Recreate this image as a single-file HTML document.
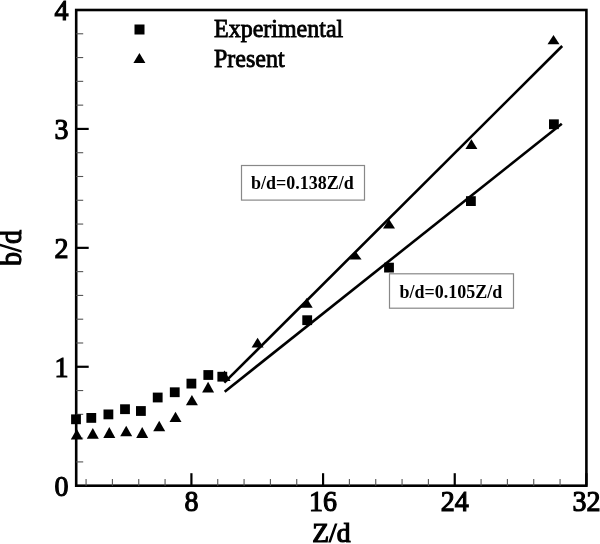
<!DOCTYPE html>
<html><head><meta charset="utf-8"><style>
html,body{margin:0;padding:0;background:#fff;}
body{width:600px;height:544px;overflow:hidden;position:relative;}
svg{position:absolute;left:0;top:0;filter:blur(0.35px);}
text{font-family:"Liberation Serif",serif;fill:#000;}
.tk{font-size:28px;stroke:#000;stroke-width:1.1px;}
.ax{font-size:27.5px;stroke:#000;stroke-width:1.2px;}
.ax2{font-size:28px;stroke:#000;stroke-width:1.1px;}
.lg{font-size:24px;stroke:#000;stroke-width:0.8px;}
.bx{font-size:18px;font-weight:bold;}
</style></head><body>
<svg width="600" height="544" viewBox="0 0 600 544">
<rect x="76.2" y="10.0" width="510.20" height="475.70" fill="none" stroke="#000" stroke-width="2.6"/>
<line x1="86.07" y1="485.7" x2="86.07" y2="478.9" stroke="#555" stroke-width="1.1"/>
<line x1="112.41" y1="485.7" x2="112.41" y2="478.9" stroke="#555" stroke-width="1.1"/>
<line x1="138.74" y1="485.7" x2="138.74" y2="478.9" stroke="#555" stroke-width="1.1"/>
<line x1="165.07" y1="485.7" x2="165.07" y2="478.9" stroke="#555" stroke-width="1.1"/>
<line x1="191.41" y1="485.7" x2="191.41" y2="473.2" stroke="#000" stroke-width="2.2"/>
<line x1="217.74" y1="485.7" x2="217.74" y2="478.9" stroke="#555" stroke-width="1.1"/>
<line x1="244.07" y1="485.7" x2="244.07" y2="478.9" stroke="#555" stroke-width="1.1"/>
<line x1="270.41" y1="485.7" x2="270.41" y2="478.9" stroke="#555" stroke-width="1.1"/>
<line x1="296.74" y1="485.7" x2="296.74" y2="478.9" stroke="#555" stroke-width="1.1"/>
<line x1="323.07" y1="485.7" x2="323.07" y2="473.2" stroke="#000" stroke-width="2.2"/>
<line x1="349.40" y1="485.7" x2="349.40" y2="478.9" stroke="#555" stroke-width="1.1"/>
<line x1="375.74" y1="485.7" x2="375.74" y2="478.9" stroke="#555" stroke-width="1.1"/>
<line x1="402.07" y1="485.7" x2="402.07" y2="478.9" stroke="#555" stroke-width="1.1"/>
<line x1="428.40" y1="485.7" x2="428.40" y2="478.9" stroke="#555" stroke-width="1.1"/>
<line x1="454.74" y1="485.7" x2="454.74" y2="473.2" stroke="#000" stroke-width="2.2"/>
<line x1="481.07" y1="485.7" x2="481.07" y2="478.9" stroke="#555" stroke-width="1.1"/>
<line x1="507.40" y1="485.7" x2="507.40" y2="478.9" stroke="#555" stroke-width="1.1"/>
<line x1="533.73" y1="485.7" x2="533.73" y2="478.9" stroke="#555" stroke-width="1.1"/>
<line x1="560.07" y1="485.7" x2="560.07" y2="478.9" stroke="#555" stroke-width="1.1"/>
<line x1="586.40" y1="485.7" x2="586.40" y2="473.2" stroke="#000" stroke-width="2.2"/>
<line x1="76.2" y1="461.91" x2="83.2" y2="461.91" stroke="#555" stroke-width="1.1"/>
<line x1="76.2" y1="438.13" x2="83.2" y2="438.13" stroke="#555" stroke-width="1.1"/>
<line x1="76.2" y1="414.34" x2="83.2" y2="414.34" stroke="#555" stroke-width="1.1"/>
<line x1="76.2" y1="390.56" x2="83.2" y2="390.56" stroke="#555" stroke-width="1.1"/>
<line x1="76.2" y1="366.77" x2="88.7" y2="366.77" stroke="#000" stroke-width="2.2"/>
<line x1="76.2" y1="342.99" x2="83.2" y2="342.99" stroke="#555" stroke-width="1.1"/>
<line x1="76.2" y1="319.20" x2="83.2" y2="319.20" stroke="#555" stroke-width="1.1"/>
<line x1="76.2" y1="295.42" x2="83.2" y2="295.42" stroke="#555" stroke-width="1.1"/>
<line x1="76.2" y1="271.63" x2="83.2" y2="271.63" stroke="#555" stroke-width="1.1"/>
<line x1="76.2" y1="247.85" x2="88.7" y2="247.85" stroke="#000" stroke-width="2.2"/>
<line x1="76.2" y1="224.06" x2="83.2" y2="224.06" stroke="#555" stroke-width="1.1"/>
<line x1="76.2" y1="200.28" x2="83.2" y2="200.28" stroke="#555" stroke-width="1.1"/>
<line x1="76.2" y1="176.50" x2="83.2" y2="176.50" stroke="#555" stroke-width="1.1"/>
<line x1="76.2" y1="152.71" x2="83.2" y2="152.71" stroke="#555" stroke-width="1.1"/>
<line x1="76.2" y1="128.93" x2="88.7" y2="128.93" stroke="#000" stroke-width="2.2"/>
<line x1="76.2" y1="105.14" x2="83.2" y2="105.14" stroke="#555" stroke-width="1.1"/>
<line x1="76.2" y1="81.35" x2="83.2" y2="81.35" stroke="#555" stroke-width="1.1"/>
<line x1="76.2" y1="57.57" x2="83.2" y2="57.57" stroke="#555" stroke-width="1.1"/>
<line x1="76.2" y1="33.78" x2="83.2" y2="33.78" stroke="#555" stroke-width="1.1"/>
<line x1="224.3" y1="382.7" x2="562.2" y2="46" stroke="#000" stroke-width="2.6"/>
<line x1="224.7" y1="391.7" x2="561.8" y2="123.7" stroke="#000" stroke-width="2.6"/>
<rect x="71.10" y="414.40" width="9.8" height="9.8" fill="#000"/>
<rect x="86.40" y="413.00" width="9.8" height="9.8" fill="#000"/>
<rect x="103.50" y="409.50" width="9.8" height="9.8" fill="#000"/>
<rect x="120.10" y="404.30" width="9.8" height="9.8" fill="#000"/>
<rect x="136.00" y="406.10" width="9.8" height="9.8" fill="#000"/>
<rect x="152.80" y="392.60" width="9.8" height="9.8" fill="#000"/>
<rect x="169.85" y="387.35" width="9.8" height="9.8" fill="#000"/>
<rect x="186.50" y="378.70" width="9.8" height="9.8" fill="#000"/>
<rect x="203.40" y="370.10" width="9.8" height="9.8" fill="#000"/>
<rect x="217.40" y="371.80" width="9.8" height="9.8" fill="#000"/>
<rect x="302.30" y="315.30" width="9.8" height="9.8" fill="#000"/>
<rect x="384.10" y="262.70" width="9.8" height="9.8" fill="#000"/>
<rect x="466.00" y="196.20" width="9.8" height="9.8" fill="#000"/>
<rect x="549.00" y="119.35" width="9.8" height="9.8" fill="#000"/>
<polygon points="76.80,429.00 82.80,439.50 70.80,439.50" fill="#000"/>
<polygon points="92.80,428.00 98.80,438.70 86.80,438.70" fill="#000"/>
<polygon points="109.30,427.00 115.30,438.00 103.30,438.00" fill="#000"/>
<polygon points="126.20,425.70 132.20,436.30 120.20,436.30" fill="#000"/>
<polygon points="142.20,427.00 148.20,438.00 136.20,438.00" fill="#000"/>
<polygon points="159.20,420.80 165.20,431.30 153.20,431.30" fill="#000"/>
<polygon points="175.50,411.70 181.50,422.00 169.50,422.00" fill="#000"/>
<polygon points="191.90,395.00 197.90,405.30 185.90,405.30" fill="#000"/>
<polygon points="208.10,381.70 214.10,392.50 202.10,392.50" fill="#000"/>
<polygon points="224.50,370.50 230.50,381.00 218.50,381.00" fill="#000"/>
<polygon points="257.60,337.70 263.60,347.50 251.60,347.50" fill="#000"/>
<polygon points="306.70,298.00 312.70,307.70 300.70,307.70" fill="#000"/>
<polygon points="355.60,251.30 361.60,259.60 349.60,259.60" fill="#000"/>
<polygon points="389.00,219.00 395.00,228.50 383.00,228.50" fill="#000"/>
<polygon points="471.40,139.30 477.40,148.90 465.40,148.90" fill="#000"/>
<polygon points="553.50,35.00 559.50,44.30 547.50,44.30" fill="#000"/>
<rect x="134.5" y="24.5" width="10" height="10" fill="#000"/>
<polygon points="139.4,53 145.4,63 133.4,63" fill="#000"/>
<rect x="241.5" y="165.5" width="123" height="34.6" fill="#fff" stroke="#888" stroke-width="1.2"/>
<rect x="389.5" y="273.8" width="124" height="34.4" fill="#fff" stroke="#888" stroke-width="1.2"/>
<text transform="translate(68.50,495.60) scale(1,1.08)" text-anchor="end" class="tk">0</text>
<text transform="translate(68.50,376.67) scale(1,1.08)" text-anchor="end" class="tk">1</text>
<text transform="translate(68.50,257.75) scale(1,1.08)" text-anchor="end" class="tk">2</text>
<text transform="translate(68.50,138.83) scale(1,1.08)" text-anchor="end" class="tk">3</text>
<text transform="translate(68.50,19.90) scale(1,1.08)" text-anchor="end" class="tk">4</text>
<text transform="translate(191.41,511.30) scale(1,1.08)" text-anchor="middle" class="tk">8</text>
<text transform="translate(323.07,511.30) scale(1,1.08)" text-anchor="middle" class="tk">16</text>
<text transform="translate(454.74,511.30) scale(1,1.08)" text-anchor="middle" class="tk">24</text>
<text transform="translate(586.40,511.30) scale(1,1.08)" text-anchor="middle" class="tk">32</text>
<text transform="translate(331.40,541.50) scale(1,1.03)" text-anchor="middle" class="ax">Z/d</text>
<text transform="translate(20.60,248.00) rotate(-90) scale(1,1.1)" text-anchor="middle" class="ax2">b/d</text>
<text transform="translate(214.00,37.30) scale(1,1.07)" class="lg">Experimental</text>
<text transform="translate(214.00,66.60) scale(1,1.07)" class="lg">Present</text>
<text transform="translate(251.10,189.00) scale(1,1.05)" class="bx">b/d=0.138Z/d</text>
<text transform="translate(399.50,297.50) scale(1,1.05)" class="bx">b/d=0.105Z/d</text>
</svg>
</body></html>
